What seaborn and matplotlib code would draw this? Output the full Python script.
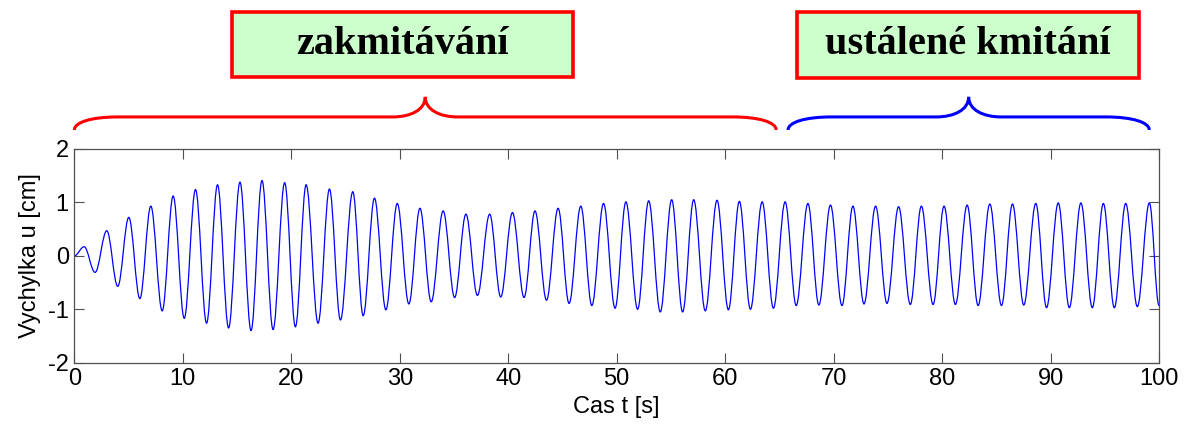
import numpy as np
import pandas as pd
import matplotlib
matplotlib.use("Agg")
import matplotlib.pyplot as plt
from matplotlib.path import Path
from matplotlib.patches import PathPatch, Rectangle
import matplotlib.transforms as mtransforms
import seaborn as sns

# extrema of the displacement signal (peaks / troughs)
ext_t = [0, 0.9, 1.91, 2.99, 4.0, 5.02, 6.04, 7.05, 8.1, 9.11,
         10.13, 11.17, 12.19, 13.2, 14.22, 15.27, 16.29, 17.3, 18.32, 19.39,
         20.38, 21.37, 22.47, 23.52, 24.53, 25.67, 26.63, 27.67, 28.72, 29.77,
         30.84, 31.86, 32.9, 34.0, 35.06, 36.1, 37.16, 38.29, 39.31, 40.39,
         41.46, 42.47, 43.53, 44.6, 45.61, 46.69, 47.71, 48.79, 49.85, 50.85,
         51.93, 52.95, 54.02, 55.07, 56.08, 57.1, 58.17, 59.25, 60.3, 61.31,
         62.33, 63.41, 64.45, 65.53, 66.55, 67.63, 68.64, 69.71, 70.77, 71.78,
         72.8, 73.87, 74.92, 75.99, 77.07, 78.09, 79.17, 80.18, 81.23, 82.31,
         83.32, 84.4, 85.48, 86.49, 87.53, 88.64, 89.63, 90.71, 91.73, 92.8,
         93.85, 94.87, 95.88, 96.93, 98.0, 99.11, 100]
ext_u = [0, 0.17, -0.31, 0.47, -0.57, 0.72, -0.80, 0.93, -1.03, 1.12,
         -1.17, 1.24, -1.26, 1.33, -1.35, 1.38, -1.40, 1.41, -1.38, 1.37,
         -1.33, 1.33, -1.26, 1.25, -1.20, 1.20, -1.12, 1.08, -1.01, 0.98,
         -0.90, 0.89, -0.86, 0.84, -0.78, 0.78, -0.74, 0.78, -0.77, 0.81,
         -0.78, 0.84, -0.83, 0.89, -0.89, 0.93, -0.93, 0.98, -0.98, 1.01,
         -1.0, 1.03, -1.05, 1.05, -1.05, 1.05, -1.03, 1.04, -1.01, 1.02,
         -1.0, 1.01, -0.98, 1.01, -0.93, 0.98, -0.92, 0.95, -0.93, 0.93,
         -0.90, 0.93, -0.89, 0.92, -0.91, 0.93, -0.91, 0.93, -0.91, 0.95,
         -0.93, 0.97, -0.93, 0.97, -0.92, 0.98, -0.97, 0.99, -0.97, 0.99,
         -0.97, 0.98, -0.97, 0.98, -0.95, 0.99, -0.93]

x_ticks = [0, 10, 20, 30, 40, 50, 60, 70, 80, 90, 100]
y_ticks = [-2, -1, 0, 1, 2]

# phases: label, start, end, brace colour
phase_labels = ["zakmitávání", "ustálené kmitání"]
phase_start = [0.0, 65.8]
phase_end = [64.7, 99.1]
phase_colors = ["#ff0000", "#0000ff"]

df = pd.DataFrame({"t": ext_t, "u": ext_u})

sns.set_theme(style="white")
sns.set_style("white", {"xtick.direction": "in", "ytick.direction": "in",
                        "axes.edgecolor": "#505050"})
plt.rcParams["font.family"] = ["Liberation Sans", "DejaVu Sans"]
plt.rcParams["axes.unicode_minus"] = False
plt.rcParams["text.color"] = "black"
plt.rcParams["axes.labelcolor"] = "black"

fig = plt.figure(figsize=(11.84, 4.24), dpi=100)
ax = fig.add_axes([0.0628, 0.1446, 0.9161, 0.5040])

# smooth curve through the extrema: cubic Bezier segments with flat tangents
k = 0.364
verts = [(df.t[0], df.u[0])]
codes = [Path.MOVETO]
for i in range(len(df) - 1):
    t0, u0, t1, u1 = df.t[i], df.u[i], df.t[i + 1], df.u[i + 1]
    dt = t1 - t0
    verts += [(t0 + k * dt, u0), (t1 - k * dt, u1), (t1, u1)]
    codes += [Path.CURVE4] * 3
ax.add_patch(PathPatch(Path(verts, codes), facecolor="none",
                       edgecolor="#0000ff", lw=0.9))

ax.set_xlim(0, 100)
ax.set_ylim(-2, 2)
ax.set_xticks(x_ticks)
ax.set_yticks(y_ticks)
ax.tick_params(axis="both", which="both", direction="in", length=7.5,
               width=0.8, color="#505050", labelsize=17, labelcolor="black",
               top=True, right=True, bottom=True, left=True, pad=4)
for s in ax.spines.values():
    s.set_linewidth(0.9)
    s.set_color("#505050")
ax.set_xlabel("Cas t [s]", fontsize=17, labelpad=4, color="black")
ax.set_ylabel("Vychylka u [cm]", fontsize=17, labelpad=5, color="black")


def brace(x0, x1, xm, y0, y1, y2, w_end, w_mid):
    v = [(x0, y0),
         (x0, y0 + 0.6 * (y1 - y0)), (x0 + 0.4 * w_end, y1), (x0 + w_end, y1),
         (xm - w_mid, y1),
         (xm - 0.45 * w_mid, y1), (xm, y1 + 0.35 * (y2 - y1)), (xm, y2),
         (xm, y1 + 0.35 * (y2 - y1)), (xm + 0.45 * w_mid, y1), (xm + w_mid, y1),
         (x1 - w_end, y1),
         (x1 - 0.4 * w_end, y1), (x1, y0 + 0.6 * (y1 - y0)), (x1, y0)]
    c = ([Path.MOVETO] + [Path.CURVE4] * 3 + [Path.LINETO] + [Path.CURVE4] * 6
         + [Path.LINETO] + [Path.CURVE4] * 3)
    return Path(v, c)


trans = mtransforms.blended_transform_factory(ax.transData, ax.transAxes)
for start, end, col in zip(phase_start, phase_end, phase_colors):
    mid = (start + end) / 2
    ax.add_patch(PathPatch(brace(start, end, mid, 1.089, 1.150, 1.244, 4.0, 3.0),
                           transform=trans, facecolor="none", edgecolor=col,
                           lw=2.2, clip_on=False))

# label boxes above the braces (figure pixel layout)
W, H = 1184, 424
boxes = [(232, 12, 341, 65), (797, 12, 342, 66)]
for (bx, by, bw, bh), label in zip(boxes, phase_labels):
    fig.patches.append(Rectangle((bx / W, 1 - (by + bh) / H), bw / W, bh / H,
                                 transform=fig.transFigure, facecolor="#ccffcc",
                                 edgecolor="#ff0000", lw=2.6))
    fig.text((bx + bw / 2) / W, 1 - (by + bh / 2) / H, label,
             ha="center", va="center", fontsize=29, fontweight="bold",
             family=["Liberation Serif", "DejaVu Serif"], color="black")

fig.savefig("out.png", dpi=100)
